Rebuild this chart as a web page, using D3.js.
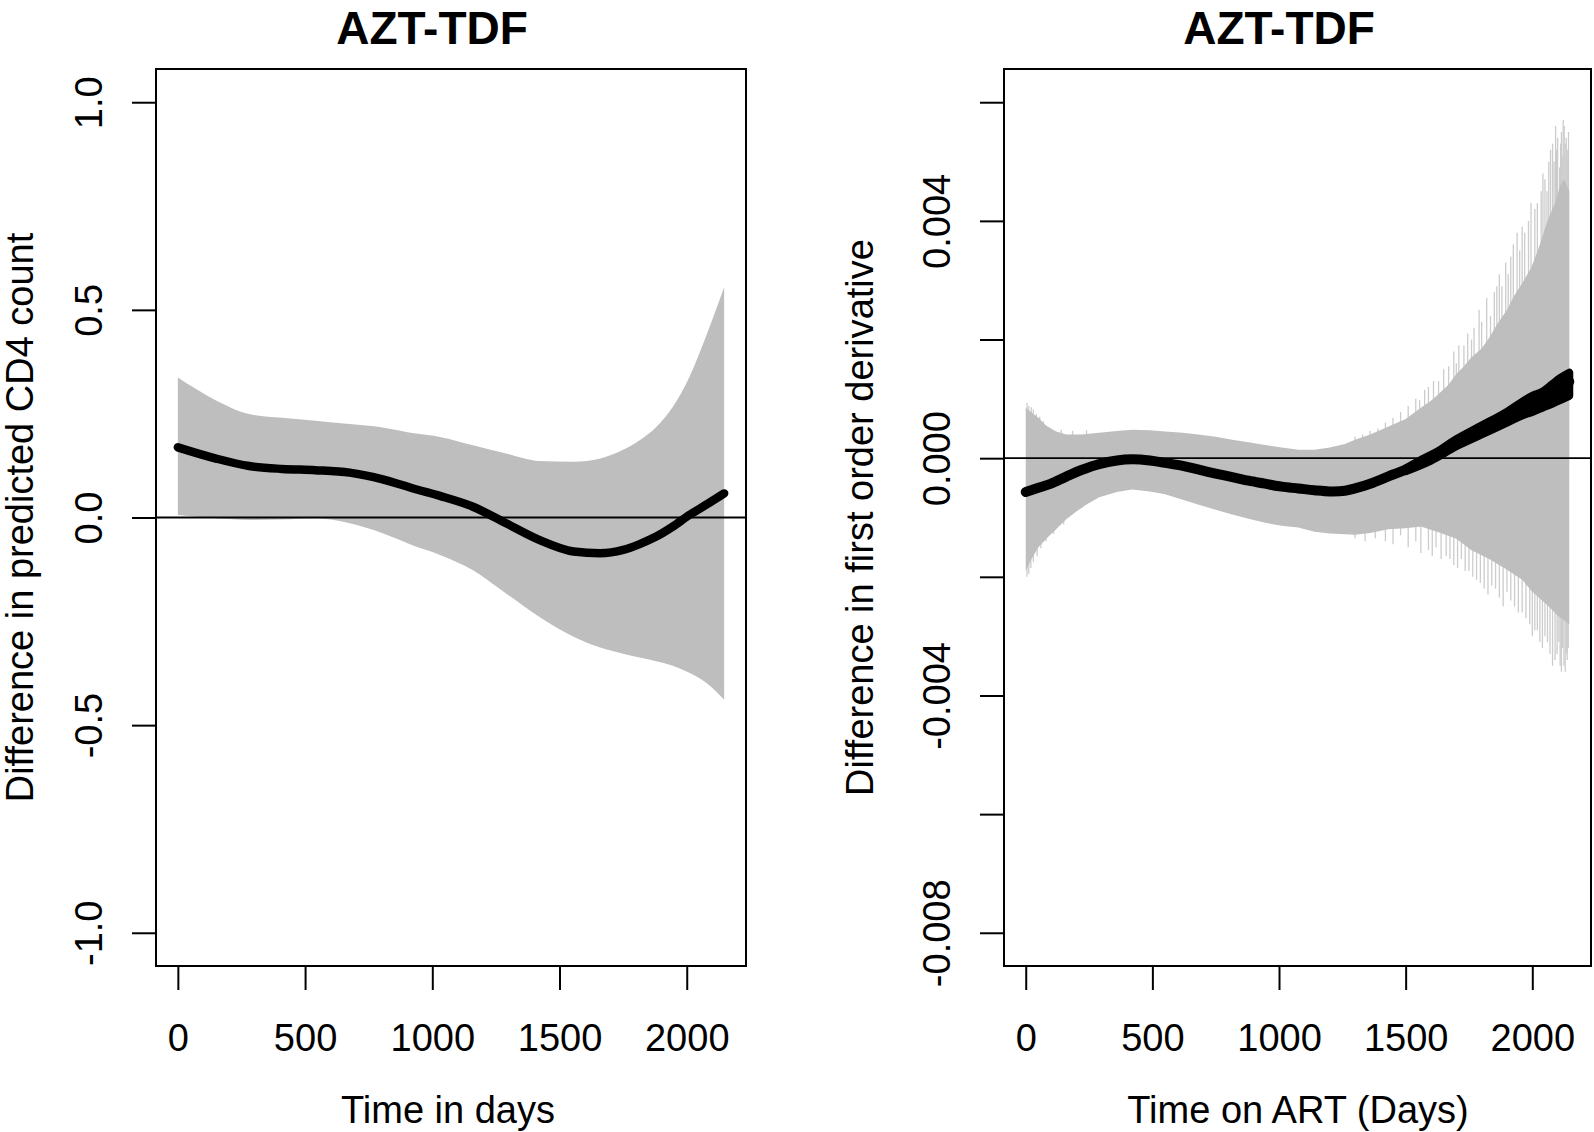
<!DOCTYPE html>
<html><head><meta charset="utf-8">
<script src="https://cdn.jsdelivr.net/npm/d3@7"></script>
<style>
body{margin:0;background:#fff}
svg{display:block}
text{font-family:"Liberation Sans",Arial,Helvetica,sans-serif;fill:#000}
</style>
</head><body>
<svg id="c" width="1594" height="1132"></svg>
<script>
// ---------- Left panel data (difference in predicted CD4 count) ----------
const leftDays  = [0,150,280,410,540,675,805,935,1030,1160,1290,1420,1555,1660,1750,1815,1880,1945,2010,2080,2147];
const leftMean  = [0.169,0.142,0.124,0.117,0.114,0.108,0.092,0.068,0.052,0.026,-0.014,-0.054,-0.082,-0.086,-0.078,-0.064,-0.046,-0.022,0.006,0.032,0.058];
const leftUpper = [0.337,0.282,0.249,0.240,0.233,0.225,0.217,0.202,0.194,0.174,0.154,0.136,0.134,0.142,0.163,0.186,0.218,0.266,0.338,0.443,0.555];
const leftLower = [0.006,-0.002,-0.006,-0.005,-0.002,-0.014,-0.038,-0.070,-0.090,-0.127,-0.183,-0.239,-0.287,-0.313,-0.328,-0.337,-0.346,-0.357,-0.374,-0.400,-0.439];
const leftYTicks = [-1,-0.5,0,0.5,1];
const leftYTickLabels = ["-1.0","-0.5","0.0","0.5","1.0"];

// ---------- Right panel data (difference in first order derivative) ----------
const rightBandDays  = [0,20,50,80,120,160,220,290,360,420,490,550,620,680,750,815,880,945,1010,1076,1140,1200,1260,1300,1360,1430,1500,1560,1600,1630,1670,1700,1730,1760,1800,1830,1860,1900,1930,1960,1995,2030,2060,2090,2110,2126,2146];
const rightUpper     = [0.00085,0.00078,0.00068,0.00055,0.00045,0.00040,0.00040,0.00043,0.00046,0.00048,0.00047,0.00045,0.00043,0.00040,0.00036,0.00031,0.00027,0.00022,0.00018,0.00014,0.00014,0.00018,0.00024,0.00031,0.00040,0.00053,0.00066,0.00085,0.00097,0.00108,0.00124,0.00142,0.00155,0.00170,0.00185,0.00203,0.00225,0.00250,0.00275,0.00295,0.00320,0.00360,0.00400,0.00430,0.00460,0.00470,0.00450];
const rightLowerDays = [0,20,50,90,120,160,200,240,290,360,420,490,550,620,680,750,815,880,945,1010,1076,1140,1200,1300,1360,1430,1500,1560,1630,1700,1760,1830,1900,1960,2000,2060,2100,2146];
const rightLower     = [-0.00190,-0.00172,-0.00150,-0.00132,-0.00120,-0.00103,-0.00090,-0.00078,-0.00066,-0.00057,-0.00053,-0.00056,-0.00061,-0.00070,-0.00078,-0.00087,-0.00095,-0.00102,-0.00109,-0.00114,-0.00117,-0.00124,-0.00127,-0.00129,-0.00126,-0.00120,-0.00118,-0.00115,-0.00125,-0.00136,-0.00155,-0.00170,-0.00188,-0.00205,-0.00225,-0.00248,-0.00265,-0.00280];
// spikes of the upper / lower limits [day, value]
const rightUpperSpikes = [[5,0.00093],[12,0.00088],[22,0.00086],[30,0.00082],[42,0.00075],[55,0.00070],[70,0.00062],[95,0.00050],[140,0.00048],[185,0.00046],[240,0.00047],
  [1300,0.00036],[1330,0.00040],[1360,0.00046],[1390,0.00050],[1420,0.00060],[1450,0.00068],[1480,0.00078],[1510,0.00088],
  [1540,0.0010],[1555,0.00098],[1575,0.00115],[1590,0.0012],[1610,0.0013],[1630,0.0013],[1650,0.0015],[1670,0.00155],[1690,0.0018],[1700,0.0016],[1710,0.0019],[1730,0.0019],[1745,0.0021],[1760,0.0020],[1770,0.0022],[1790,0.0025],[1800,0.0023],[1820,0.0027],[1835,0.0024],[1850,0.0028],[1860,0.0029],[1870,0.0031],[1880,0.0029],[1895,0.0033],[1905,0.0031],[1915,0.0034],[1925,0.0036],[1940,0.0038],[1950,0.0035],[1960,0.0039],[1970,0.0038],[1985,0.0040],[1995,0.0043],[2010,0.0042],[2020,0.0043],[2035,0.0045],[2042,0.0048],[2050,0.0047],[2058,0.0045],[2065,0.0050],[2072,0.0052],[2080,0.0053],[2086,0.0050],[2092,0.0056],[2096,0.0052],[2100,0.0054],[2108,0.0049],[2112,0.0053],[2115,0.0055],[2118,0.0051],[2122,0.0057],[2126,0.0056],[2130,0.0053],[2134,0.0054],[2138,0.0052],[2140,0.0050],[2143,0.0055]];
const rightLowerSpikes = [[5,-0.0020],[12,-0.00195],[20,-0.00185],[30,-0.00175],[45,-0.00165],[60,-0.00152],[80,-0.0014],[110,-0.00128],[150,-0.00112],
  [1300,-0.00135],[1340,-0.0014],[1380,-0.00135],[1420,-0.0014],[1450,-0.00145],[1480,-0.0013],[1510,-0.0015],[1540,-0.0014],[1560,-0.0016],[1590,-0.00155],[1605,-0.00165],[1620,-0.0015],[1640,-0.0017],[1660,-0.00165],[1675,-0.0017],[1690,-0.0018],[1705,-0.00185],[1720,-0.0017],[1735,-0.0019],[1750,-0.0019],[1765,-0.0020],[1780,-0.00205],[1795,-0.0021],[1810,-0.0022],[1825,-0.0023],[1840,-0.00215],[1855,-0.0022],[1870,-0.00235],[1885,-0.0025],[1900,-0.00225],[1915,-0.0024],[1930,-0.0025],[1945,-0.0026],[1960,-0.0026],[1975,-0.0027],[1990,-0.0028],[2000,-0.0030],[2010,-0.0029],[2020,-0.0029],[2030,-0.0031],[2040,-0.0032],[2050,-0.0030],[2060,-0.0031],[2070,-0.0033],[2080,-0.0035],[2090,-0.0034],[2098,-0.0033],[2105,-0.0031],[2110,-0.0035],[2115,-0.0036],[2120,-0.0032],[2125,-0.0035],[2130,-0.0036],[2135,-0.0033],[2138,-0.0034],[2142,-0.0032]];
const rightMeanDays = [0,50,100,160,220,290,360,420,490,550,620,680,750,815,880,945,1010,1076,1140,1200,1260,1300,1360,1430,1500,1560,1630,1700,1760,1830,1900,1960,2030,2090,2146];
const rightMean     = [-0.00057,-0.00050,-0.00043,-0.00031,-0.00020,-0.00010,-0.00004,-0.00002,-0.00004,-0.00008,-0.00013,-0.00019,-0.00026,-0.00032,-0.00038,-0.00043,-0.00048,-0.00051,-0.00054,-0.00056,-0.00055,-0.00051,-0.00043,-0.00031,-0.00019,-0.00005,0.00010,0.00026,0.00040,0.00054,0.00070,0.00086,0.00100,0.00115,0.00129];
// scatter of the estimated derivative around its trend (late follow-up)
const rightSpreadDays = [1500,1600,1700,1800,1900,1960,2000,2040,2080,2110,2146];
const rightSpreadHi   = [-0.00018,0.00004,0.00032,0.00055,0.00078,0.00095,0.00105,0.00112,0.00125,0.00135,0.00144];
const rightSpreadLo   = [-0.00022,-0.00004,0.00020,0.00040,0.00060,0.00072,0.00078,0.00085,0.00092,0.00098,0.00105];
const rightYTicks = [-0.008,-0.006,-0.004,-0.002,0,0.002,0.004,0.006];
const rightYTickLabels = ["-0.008","","-0.004","","0.000","","0.004",""];

const xTicks = [0,500,1000,1500,2000];

const svg = d3.select("#c");
const GREY = "#bebebe";

function panel(cfg){
  const g = svg.append("g");
  const x = d3.scaleLinear().domain(cfg.xDomain).range([cfg.bx0, cfg.bx1]);
  const y = d3.scaleLinear().domain(cfg.yDomain).range([cfg.by1, cfg.by0]);
  cfg.draw(g, x, y);
  g.append("line").attr("x1",cfg.bx0).attr("x2",cfg.bx1).attr("y1",y(0)).attr("y2",y(0))
    .attr("stroke","#000").attr("stroke-width",1.8);
  const xa = g.append("g").attr("transform",`translate(0,${cfg.by1})`)
    .call(d3.axisBottom(x).tickValues(xTicks).tickSize(24).tickSizeOuter(0).tickFormat(d3.format("d")));
  xa.select(".domain").remove();
  xa.selectAll("line").attr("stroke","#000").attr("stroke-width",2);
  xa.selectAll("text").attr("y",85).attr("dy",null).attr("font-size",38)
    .style("font-family",'"Liberation Sans",Arial,sans-serif').attr("fill","#000");
  const ya = g.append("g").attr("transform",`translate(${cfg.bx0},0)`)
    .call(d3.axisLeft(y).tickValues(cfg.yTicks).tickSize(24).tickSizeOuter(0)
      .tickFormat((d,i)=>cfg.yTickLabels[i]));
  ya.select(".domain").remove();
  ya.selectAll("line").attr("stroke","#000").attr("stroke-width",2);
  ya.selectAll("text").attr("x",null).attr("dy",null).attr("y",null)
    .attr("text-anchor","middle").attr("transform","translate(-54,0) rotate(-90)")
    .attr("font-size",38).style("font-family",'"Liberation Sans",Arial,sans-serif').attr("fill","#000");
  g.append("rect").attr("x",cfg.bx0).attr("y",cfg.by0).attr("width",cfg.bx1-cfg.bx0).attr("height",cfg.by1-cfg.by0)
    .attr("fill","none").attr("stroke","#000").attr("stroke-width",2);
  g.append("text").attr("x",cfg.titleX).attr("y",44).attr("text-anchor","middle")
    .attr("font-size",46).attr("font-weight","bold").text(cfg.title);
  g.append("text").attr("x",cfg.xlabX).attr("y",1123).attr("text-anchor","middle")
    .attr("font-size",38).text(cfg.xlab);
  g.append("text").attr("transform",`translate(${cfg.ylabX},${(cfg.by0+cfg.by1)/2}) rotate(-90)`)
    .attr("text-anchor","middle").attr("font-size",38).text(cfg.ylab);
}

panel({
  bx0:156, bx1:746, by0:69, by1:966,
  xDomain:[-85.9, 2232.9], yDomain:[-1.08,1.08],
  yTicks:leftYTicks, yTickLabels:leftYTickLabels,
  title:"AZT-TDF", titleX:432,
  xlab:"Time in days", xlabX:448,
  ylab:"Difference in predicted CD4 count", ylabX:33,
  draw:(g,x,y)=>{
    const idx = d3.range(leftDays.length);
    g.append("path").datum(idx)
      .attr("d", d3.area().curve(d3.curveMonotoneX).x(i=>x(leftDays[i])).y0(i=>y(leftLower[i])).y1(i=>y(leftUpper[i])))
      .attr("fill",GREY);
    g.append("path").datum(idx)
      .attr("d", d3.line().curve(d3.curveMonotoneX).x(i=>x(leftDays[i])).y(i=>y(leftMean[i])))
      .attr("fill","none").attr("stroke","#000").attr("stroke-width",8.5).attr("stroke-linecap","round");
  }
});

panel({
  bx0:1004, bx1:1591, by0:69, by1:966,
  xDomain:[-85.8, 2231.8], yDomain:[-0.00856,0.00656],
  yTicks:rightYTicks, yTickLabels:rightYTickLabels,
  title:"AZT-TDF", titleX:1279,
  xlab:"Time on ART (Days)", xlabX:1298,
  ylab:"Difference in first order derivative", ylabX:873,
  draw:(g,x,y)=>{
    g.append("g").selectAll("line").data(rightUpperSpikes.concat(rightLowerSpikes)).join("line")
      .attr("x1",d=>x(d[0])).attr("x2",d=>x(d[0])).attr("y1",y(0)).attr("y2",d=>y(d[1]))
      .attr("stroke","#cccccc").attr("stroke-width",1.3);
    g.append("path").datum(d3.range(rightBandDays.length))
      .attr("d", d3.area().x(i=>x(rightBandDays[i])).y0(y(0)).y1(i=>y(rightUpper[i])))
      .attr("fill",GREY);
    g.append("path").datum(d3.range(rightLowerDays.length))
      .attr("d", d3.area().x(i=>x(rightLowerDays[i])).y0(y(0)).y1(i=>y(rightLower[i])))
      .attr("fill",GREY);
    g.append("path").datum(d3.range(rightSpreadDays.length))
      .attr("d", d3.area().curve(d3.curveMonotoneX).x(i=>x(rightSpreadDays[i])).y0(i=>y(rightSpreadLo[i])).y1(i=>y(rightSpreadHi[i])))
      .attr("fill","#000").attr("stroke","#000").attr("stroke-width",8).attr("stroke-linejoin","round");
    g.append("path").datum(d3.range(rightMeanDays.length))
      .attr("d", d3.line().curve(d3.curveCatmullRom.alpha(0.5)).x(i=>x(rightMeanDays[i])).y(i=>y(rightMean[i])))
      .attr("fill","none").attr("stroke","#000").attr("stroke-width",10).attr("stroke-linecap","round");
  }
});
</script>
</body></html>
